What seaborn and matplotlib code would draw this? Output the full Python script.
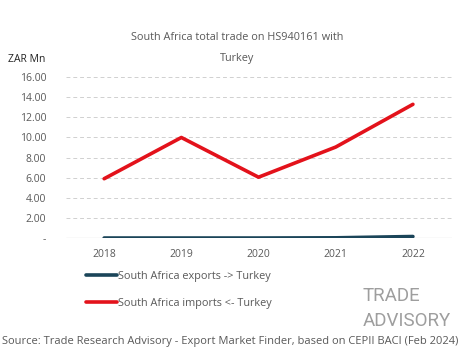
import matplotlib
matplotlib.use("Agg")
import matplotlib.pyplot as plt
import seaborn as sns
import pandas as pd

years = ["2018", "2019", "2020", "2021", "2022"]
exports = [0.0, 0.0, 0.0, 0.02, 0.15]
imports = [5.9, 10.0, 6.05, 9.05, 13.3]
series_names = ["South Africa exports -> Turkey", "South Africa imports <- Turkey"]
y_ticks = [0, 2, 4, 6, 8, 10, 12, 14, 16]

df = pd.DataFrame({
    "year": years * 2,
    "value": exports + imports,
    "series": [series_names[0]] * len(years) + [series_names[1]] * len(years),
})

sns.set_style("white")
plt.rcParams["font.family"] = ["Open Sans", "DejaVu Sans"]
grey = "#595959"

fig = plt.figure(figsize=(4.65, 3.59), dpi=100)
ax = fig.add_axes([0.141, 0.337, 0.83, 0.448])

sns.lineplot(data=df, x="year", y="value", hue="series", sort=False,
             palette=["#1b4559", "#e3121b"], linewidth=2.6, ax=ax)

ax.set_ylim(0, 16)
ax.set_xlim(-0.5, 4.5)
ax.set_yticks(y_ticks)
ax.set_yticklabels(["-"] + [f"{v:.2f}" for v in y_ticks[1:]])
for v in y_ticks[1:]:
    ax.axhline(v, color="#d0d0d0", linestyle=(0, (4, 3)), linewidth=0.7, zorder=0)
ax.axhline(0, color="#d0d0d0", linewidth=0.9, zorder=0)
for s in ax.spines.values():
    s.set_visible(False)
ax.tick_params(axis="both", length=0, labelsize=7.5, labelcolor=grey, pad=8)
ax.tick_params(axis="y", pad=14)
ax.set_xlabel("")
ax.set_ylabel("")

fig.text(0.51, 0.895, "South Africa total trade on HS940161 with", ha="center",
         va="center", fontsize=7.8, color=grey)
fig.text(0.51, 0.838, "Turkey", ha="center", va="center", fontsize=7.8, color=grey)
fig.text(0.018, 0.835, "ZAR Mn", ha="left", va="center", fontsize=7.5, color="#222222")

handles, labels = ax.get_legend_handles_labels()
ax.legend(handles, labels, loc="upper left", bbox_to_anchor=(0.165, 0.272),
          bbox_transform=fig.transFigure, frameon=False, fontsize=7.8,
          labelcolor=grey, handlelength=2.8, handletextpad=0.15, labelspacing=1.45)

fig.text(0.78, 0.175, "TRADE", ha="left", va="center", fontsize=13.5, color="#9e9e9e",
         fontfamily=["Roboto", "DejaVu Sans"])
fig.text(0.78, 0.107, "ADVISORY", ha="left", va="center", fontsize=13.5, color="#9e9e9e",
         fontfamily=["Roboto", "DejaVu Sans"])

fig.text(0.004, 0.048, "Source: Trade Research Advisory - Export Market Finder, based on CEPII BACI (Feb 2024)",
         ha="left", va="center", fontsize=8.0, color=grey)

fig.savefig("out.png", dpi=100)
